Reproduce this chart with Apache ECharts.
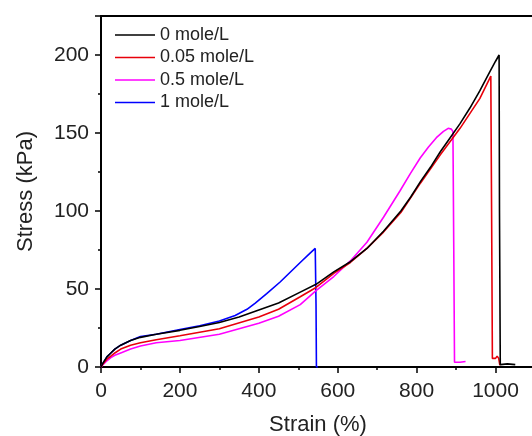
<!DOCTYPE html>
<html>
<head>
<meta charset="utf-8">
<script src="https://cdn.jsdelivr.net/npm/echarts@6/dist/echarts.min.js"></script>
<style>
  html, body { margin: 0; padding: 0; background: #fff; }
  #chart { width: 532px; height: 436px; }
</style>
</head>
<body>
<div id="chart"></div>
<script>
// series names (legend)
const seriesNames = ['0 mole/L', '0.05 mole/L', '0.5 mole/L', '1 mole/L']
const seriesColors = ['#000000', '#e8000b', '#ff00ff', '#0000ff']

// 0 mole/L
const strain0 = [0, 5, 15, 25, 35, 50, 75, 100, 140, 200, 250, 300, 350, 400, 450, 505, 545, 590, 632, 674, 716, 760, 785, 810, 835, 860, 885, 910, 935, 960, 985, 1000, 1009, 1010, 1012, 1030, 1050]
const stress0 = [0, 2.5, 6.5, 9, 11.5, 14, 17, 19, 21, 23.5, 26, 28.5, 32, 36.5, 41, 48, 53, 61, 67.5, 76, 87, 100, 109, 119, 128, 138, 147, 156, 166, 177, 189, 196, 200, 100, 1.5, 2, 1.5]

// 0.05 mole/L
const strain1 = [0, 5, 15, 25, 35, 50, 75, 100, 140, 200, 300, 400, 450, 505, 545, 590, 632, 674, 716, 760, 810, 860, 910, 960, 988, 990, 992, 1000, 1004, 1008, 1011]
const stress1 = [0, 2, 5, 7, 9, 11.5, 14, 15.5, 17.5, 20, 24.5, 32, 37, 45, 51, 60, 67, 76, 86.5, 99, 118, 136, 153, 172, 186.5, 100, 5.5, 5.5, 7, 5.5, 1]

// 0.5 mole/L
const strain2 = [0, 5, 15, 25, 35, 50, 75, 100, 140, 200, 300, 400, 450, 505, 545, 590, 632, 674, 716, 758, 784, 809, 830, 850, 868, 880, 888, 892, 894, 896, 910, 924]
const stress2 = [0, 1.5, 4, 6, 7.5, 9, 11.5, 13.5, 15.5, 17, 21, 28, 32.5, 40, 49, 58, 68, 80, 96, 113, 124, 134, 141, 147, 151, 153, 152.5, 151, 80, 3, 3, 3.5]

// 1 mole/L
const strain3 = [0, 5, 15, 25, 35, 50, 75, 100, 140, 200, 250, 300, 340, 370, 391, 420, 454, 505, 530, 543, 545, 546, 550]
const stress3 = [0, 2.5, 6.5, 9, 11.5, 14, 17, 19.5, 21, 24, 26.5, 29.5, 33, 37, 41, 47, 54.5, 67, 73, 76, 40, 0, 0]

const strains = [strain0, strain1, strain2, strain3]
const stresses = [stress0, stress1, stress2, stress3]

const chart = echarts.init(document.getElementById('chart'))

const fontFamily = 'Liberation Sans, Arial, sans-serif'
const labelFont = { color: '#222', fontSize: 21, fontFamily }

const option = {
  backgroundColor: '#fff',
  animation: false,
  grid: {
    left: 101,
    top: 16,
    right: -3,
    bottom: 69,
    outerBoundsMode: 'none'
  },
  legend: {
    data: seriesNames,
    orient: 'vertical',
    left: 110,
    top: 21,
    icon: 'rect',
    itemWidth: 40,
    itemHeight: 1.5,
    itemGap: 4.5,
    textStyle: { color: '#222', fontSize: 18, fontFamily }
  },
  xAxis: [
    {
      type: 'value',
      min: 0,
      max: 1100,
      interval: 200,
      name: 'Strain (%)',
      nameLocation: 'middle',
      nameGap: 47,
      nameTextStyle: { ...labelFont, fontSize: 22 },
      axisLine: { lineStyle: { color: '#000', width: 2 } },
      axisTick: { inside: false, length: 6, lineStyle: { width: 1.5, color: '#000' } },
      minorTick: { show: true, splitNumber: 2, length: 3, lineStyle: { width: 1.5, color: '#000' } },
      axisLabel: { ...labelFont, margin: 14, showMaxLabel: false, formatter: v => String(v) },
      splitLine: { show: false }
    },
    {
      type: 'value',
      position: 'top',
      min: 0,
      max: 1100,
      axisLine: { show: true, lineStyle: { color: '#000', width: 2 } },
      axisTick: { show: false },
      axisLabel: { show: false },
      splitLine: { show: false }
    }
  ],
  yAxis: {
    type: 'value',
    min: 0,
    max: 225,
    interval: 50,
    name: 'Stress (kPa)',
    nameLocation: 'middle',
    nameGap: 64,
    nameRotate: 90,
    nameTextStyle: { ...labelFont, fontSize: 22 },
    axisLine: { show: true, lineStyle: { color: '#000', width: 2 } },
    axisTick: { show: true, inside: false, length: 6, lineStyle: { width: 1.5, color: '#000' } },
    minorTick: { show: true, splitNumber: 2, length: 3, lineStyle: { width: 1.5, color: '#000' } },
    axisLabel: { ...labelFont, margin: 12, showMaxLabel: false },
    splitLine: { show: false }
  },
  series: seriesNames.map((name, i) => ({
    name,
    type: 'line',
    xAxisIndex: 0,
    symbol: 'none',
    data: strains[i].map((x, j) => [x, stresses[i][j]]),
    lineStyle: { color: seriesColors[i], width: 1.6 },
    itemStyle: { color: seriesColors[i] },
    z: 10 - i
  }))
}

chart.setOption(option)
</script>
</body>
</html>
